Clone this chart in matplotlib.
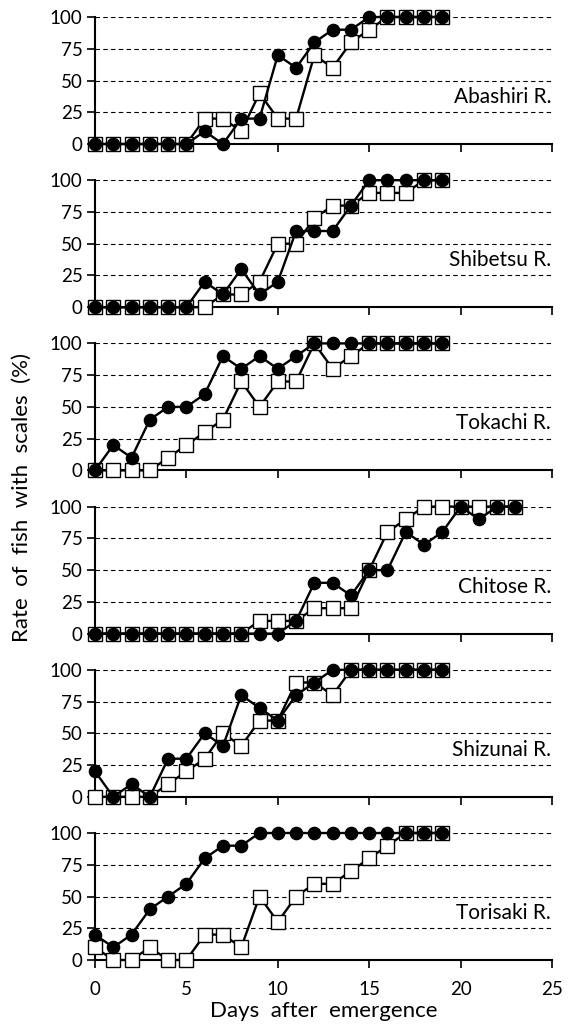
import matplotlib
matplotlib.use("Agg")
import matplotlib.pyplot as plt

rivers = ["Abashiri R.", "Shibetsu R.", "Tokachi R.", "Chitose R.", "Shizunai R.", "Torisaki R."]

# filled circles
circle_vals = [
    [0, 0, 0, 0, 0, 0, 10, 0, 20, 20, 70, 60, 80, 90, 90, 100, 100, 100, 100, 100],
    [0, 0, 0, 0, 0, 0, 20, 10, 30, 10, 20, 60, 60, 60, 80, 100, 100, 100, 100, 100],
    [0, 20, 10, 40, 50, 50, 60, 90, 80, 90, 80, 90, 100, 100, 100, 100, 100, 100, 100, 100],
    [0, 0, 0, 0, 0, 0, 0, 0, 0, 0, 0, 10, 40, 40, 30, 50, 50, 80, 70, 80, 100, 90, 100, 100],
    [20, 0, 10, 0, 30, 30, 50, 40, 80, 70, 60, 80, 90, 100, 100, 100, 100, 100, 100, 100],
    [20, 10, 20, 40, 50, 60, 80, 90, 90, 100, 100, 100, 100, 100, 100, 100, 100, 100, 100, 100],
]

# open squares
square_vals = [
    [0, 0, 0, 0, 0, 0, 20, 20, 10, 40, 20, 20, 70, 60, 80, 90, 100, 100, 100, 100],
    [0, 0, 0, 0, 0, 0, 0, 10, 10, 20, 50, 50, 70, 80, 80, 90, 90, 90, 100, 100],
    [0, 0, 0, 0, 10, 20, 30, 40, 70, 50, 70, 70, 100, 80, 90, 100, 100, 100, 100, 100],
    [0, 0, 0, 0, 0, 0, 0, 0, 0, 10, 10, 10, 20, 20, 20, 50, 80, 90, 100, 100, 100, 100, 100, 100],
    [0, 0, 0, 0, 10, 20, 30, 50, 40, 60, 60, 90, 90, 80, 100, 100, 100, 100, 100, 100],
    [10, 0, 0, 10, 0, 0, 20, 20, 10, 50, 30, 50, 60, 60, 70, 80, 90, 100, 100, 100],
]

x_ticks = [0, 5, 10, 15, 20, 25]
y_ticks = [0, 25, 50, 75, 100]

plt.rcParams['font.family'] = ['Lato', 'DejaVu Sans']

fig = plt.figure(figsize=(5.74, 10.27), dpi=100)

W, H = 574, 1027
left, right = 95, 552
for i, name in enumerate(rivers):
    bottom = 144 + 163.2 * i
    ax = fig.add_axes([left / W, 1 - bottom / H, (right - left) / W, 127 / H])
    ax.set_xlim(0, 25)
    ax.set_ylim(0, 100)

    for y in [25, 50, 75, 100]:
        ax.axhline(y, color='black', lw=0.8, ls=(0, (4, 3)), zorder=1)

    days_sq = list(range(len(square_vals[i])))
    days_ci = list(range(len(circle_vals[i])))
    ax.plot(days_sq, square_vals[i], color='black', lw=1.7, marker='s', ms=10.2,
            mfc='white', mec='black', mew=1.0, clip_on=False, zorder=3)
    ax.plot(days_ci, circle_vals[i], color='black', lw=1.7, marker='o', ms=8.8,
            mfc='black', mec='black', clip_on=False, zorder=4)

    ax.text(24.95, 37, name, ha='right', va='center', fontsize=15)

    for s in ['top', 'right']:
        ax.spines[s].set_visible(False)
    ax.spines['left'].set_linewidth(1.5)
    ax.spines['bottom'].set_linewidth(1.5)
    ax.spines['left'].set_zorder(2)

    ax.set_yticks(y_ticks)
    ax.set_xticks(x_ticks)
    ax.tick_params(axis='both', direction='out', length=6, width=1.2, labelsize=13.5, pad=3)
    if i < len(rivers) - 1:
        ax.tick_params(axis='x', labelbottom=False)
    else:
        ax.tick_params(axis='x', pad=9)
        ax.set_xlabel('Days  after  emergence', fontsize=16, labelpad=2)

fig.text(22 / W, 1 - 497 / H, 'Rate  of  fish  with  scales  (%)', rotation=90,
         ha='center', va='center', fontsize=16)

fig.savefig('out.png', dpi=100)
